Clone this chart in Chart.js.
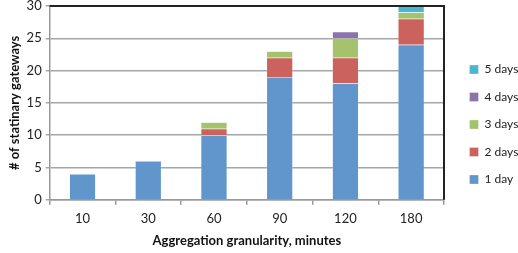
<!DOCTYPE html>
<html>
<head>
<meta charset="utf-8">
<script src="https://cdn.jsdelivr.net/npm/chart.js@4"></script>
<style>
  body { margin: 0; background: #fff; }
  #wrap { width: 518px; height: 253px; }
</style>
</head>
<body>
<div id="wrap"><canvas id="myChart" width="518" height="253"></canvas></div>
<script>
// chart data
const categories = ["10", "30", "60", "90", "120", "180"];
const oneDay = [4, 6, 10, 19, 18, 24];
const twoDays = [0, 0, 1, 3, 4, 4];
const threeDays = [0, 0, 1, 1, 3, 1];
const fourDays = [0, 0, 0, 0, 1, 0];
const fiveDays = [0, 0, 0, 0, 0, 1];
const seriesNames = ["1 day", "2 days", "3 days", "4 days", "5 days"];
const yTicks = [0, 5, 10, 15, 20, 25, 30];

const colors = ["#6096cc", "#cc625d", "#a5c26c", "#8a74ab", "#4bb7cf"];
const allSeries = [oneDay, twoDays, threeDays, fourDays, fiveDays];

// frame on top + right like the excel plot area, and nudge legend right
const frame = {
  id: "frame",
  afterLayout(chart) {
    chart.legend.left += 10;
    chart.legend.right += 10;
  },
  afterDatasetsDraw(chart) {
    const a = chart.chartArea;
    const ctx = chart.ctx;
    ctx.save();
    ctx.strokeStyle = "#222";
    ctx.lineWidth = 2;
    ctx.beginPath();
    ctx.moveTo(a.left, a.top);
    ctx.lineTo(a.right, a.top);
    ctx.lineTo(a.right, a.bottom);
    ctx.stroke();
    ctx.restore();
  }
};

var ctx = document.getElementById("myChart");
var myChart = new Chart(ctx, {
  type: "bar",
  data: {
    labels: categories,
    datasets: allSeries.map((d, i) => ({
      label: seriesNames[i],
      data: d,
      backgroundColor: colors[i],
      borderColor: "rgba(255,255,255,0.6)",
      borderWidth: 0.5,
      barPercentage: 0.4,
      categoryPercentage: 1
    }))
  },
  options: {
    responsive: false,
    animation: false,
    layout: { padding: { top: 0, right: 0, left: 7, bottom: 4 } },
    font: { family: "Lato" },
    plugins: {
      tooltip: { enabled: false },
      legend: {
        position: "right",
        reverse: true,
        maxWidth: 74,
        labels: {
          boxWidth: 9,
          boxHeight: 9,
          padding: 15.5,
          color: "#222",
          font: { family: "Lato", size: 12 }
        }
      }
    },
    scales: {
      x: {
        stacked: true,
        grid: {
          offset: true,
          drawOnChartArea: false,
          tickLength: 5,
          color: "#999",
          lineWidth: 1.5
        },
        border: { color: "#999", width: 1.5 },
        ticks: { color: "#222", font: { family: "Lato", size: 13 }, padding: 6 },
        title: {
          display: true,
          text: "Aggregation granularity, minutes",
          color: "#111",
          font: { family: "Lato", size: 13, weight: "bold" },
          padding: { top: 1, bottom: 0 }
        }
      },
      y: {
        stacked: true,
        min: 0,
        max: 30,
        afterBuildTicks(axis) {
          axis.ticks = yTicks.map(v => ({ value: v }));
        },
        grid: { color: "#a6a6a6", lineWidth: 1.5, tickLength: 4 },
        border: { color: "#999", width: 1.5 },
        ticks: { color: "#222", font: { family: "Lato", size: 13, lineHeight: 0.3 }, padding: 4 },
        title: {
          display: true,
          text: "# of statinary gateways",
          color: "#111",
          font: { family: "Lato", size: 13, weight: "bold" },
          padding: { top: 0, bottom: 0 }
        }
      }
    }
  },
  plugins: [frame]
});
</script>
</body>
</html>
